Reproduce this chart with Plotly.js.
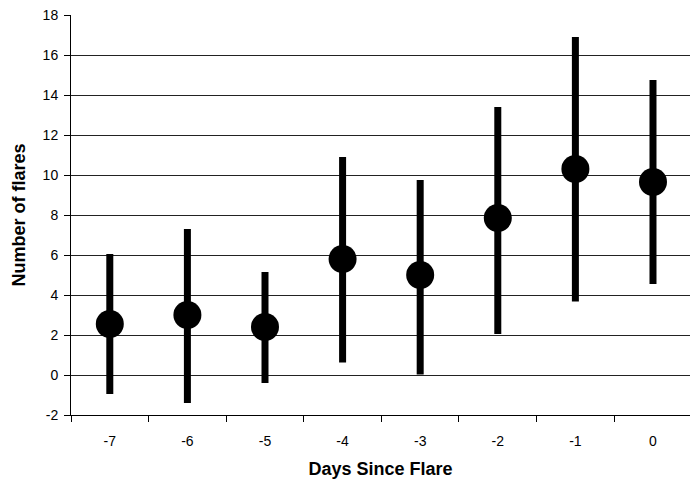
<!DOCTYPE html>
<html>
<head>
<meta charset="utf-8">
<script src="https://cdn.plot.ly/plotly-3.0.1.min.js"></script>
<style>html,body{margin:0;padding:0;background:#fff;}#chart{width:690px;height:487px;}</style>
</head>
<body>
<div id="chart"></div>
<script>
const days = ["-7", "-6", "-5", "-4", "-3", "-2", "-1", "0"];
const flares = [2.55, 3.0, 2.4, 5.8, 5.0, 7.85, 10.3, 9.65];
const errPlus = [3.5, 4.3, 2.75, 5.1, 4.75, 5.55, 6.6, 5.1];
const errMinus = [3.5, 4.4, 2.8, 5.17, 4.97, 5.8, 6.63, 5.1];
const yTicks = [-2, 0, 2, 4, 6, 8, 10, 12, 14, 16, 18];

const trace = {
  x: days, y: flares, type: 'scatter', mode: 'markers',
  marker: {color: '#000', size: 28},
  error_y: {type: 'data', symmetric: false, array: errPlus, arrayminus: errMinus,
            color: '#000', thickness: 7, width: 0},
  hoverinfo: 'none'
};

const font = {family: 'Liberation Sans, Arial, sans-serif', color: '#000'};
const layout = {
  width: 690, height: 487,
  margin: {l: 71, r: 0, t: 15, b: 72},
  paper_bgcolor: '#fff', plot_bgcolor: '#fff',
  showlegend: false,
  font: font,
  xaxis: {
    type: 'category', range: [-0.5, 7.477],
    tickson: 'boundaries', ticks: 'outside', ticklen: 6, tickcolor: '#000', tickwidth: 1,
    ticklabelstandoff: 13,
    showgrid: false, showline: true, linecolor: '#000', linewidth: 1,
    tickfont: {size: 14, family: font.family, color: '#000'},
    title: {text: 'Days Since Flare', font: {size: 18, family: font.family, color: '#000', weight: 'bold'}, standoff: 14},
    fixedrange: true
  },
  yaxis: {
    range: [-2, 18], tickvals: yTicks, ticktext: yTicks.map(String),
    ticks: 'outside', ticklen: 6, tickcolor: '#000', tickwidth: 1,
    ticklabelstandoff: 3,
    showgrid: true, gridcolor: '#222', gridwidth: 1, zeroline: false,
    showline: true, linecolor: '#000', linewidth: 1,
    tickfont: {size: 14, family: font.family, color: '#000'},
    title: {text: 'Number of flares', font: {size: 18, family: font.family, color: '#000', weight: 'bold'}, standoff: 12},
    fixedrange: true
  }
};
Plotly.newPlot('chart', [trace], layout, {displayModeBar: false, staticPlot: true});
</script>
</body>
</html>
